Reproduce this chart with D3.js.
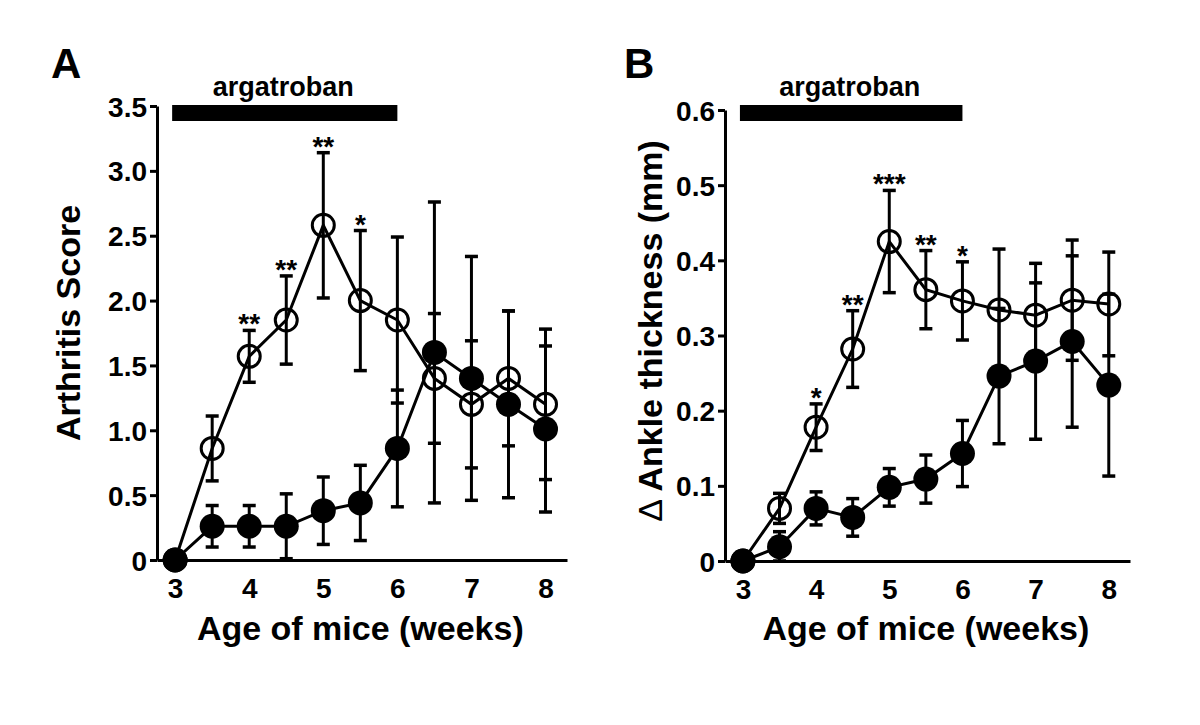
<!DOCTYPE html>
<html><head><meta charset="utf-8">
<script src="https://cdn.jsdelivr.net/npm/d3@7"></script>
<style>
body{margin:0;background:#fff}
svg text{font-family:"Liberation Sans",Arial,Helvetica,sans-serif;font-weight:bold;fill:#000}
</style>
</head><body>
<svg id="chart" width="1200" height="725"></svg>
<script>
// ---- data ----
const weeks = [3, 3.5, 4, 4.5, 5, 5.5, 6, 6.5, 7, 7.5, 8];
const xTicks = [3, 4, 5, 6, 7, 8];

// Panel A: arthritis score (open = control, filled = argatroban)
const scoreControl    = [0, 0.86, 1.57, 1.85, 2.58, 2.00, 1.85, 1.40, 1.20, 1.40, 1.20];
const scoreControlErr = [0, 0.25, 0.20, 0.34, 0.56, 0.54, 0.64, 0.50, 0.49, 0.52, 0.58];
const scoreArg        = [0, 0.26, 0.26, 0.26, 0.38, 0.44, 0.86, 1.60, 1.40, 1.20, 1.01];
const scoreArgErr     = [0, 0.16, 0.16, 0.25, 0.26, 0.29, 0.45, 1.16, 0.94, 0.72, 0.64];
const scoreStars      = ["", "", "**", "**", "**", "*", "", "", "", "", ""];
const scoreTicks      = [0, 0.5, 1, 1.5, 2, 2.5, 3, 3.5];
const scoreTickLabels = ["0", "0.5", "1.0", "1.5", "2.0", "2.5", "3.0", "3.5"];

// Panel B: ankle thickness
const ankleControl    = [0, 0.070, 0.178, 0.282, 0.425, 0.361, 0.346, 0.334, 0.327, 0.347, 0.342];
const ankleControlErr = [0, 0.020, 0.031, 0.051, 0.068, 0.052, 0.052, 0.081, 0.069, 0.080, 0.069];
const ankleArg        = [0, 0.019, 0.070, 0.058, 0.098, 0.109, 0.143, 0.246, 0.266, 0.292, 0.234];
const ankleArgErr     = [0, 0.020, 0.022, 0.025, 0.025, 0.032, 0.044, 0.090, 0.104, 0.114, 0.121];
const ankleStars      = ["", "", "*", "**", "***", "**", "*", "", "", "", ""];
const ankleTicks      = [0, 0.1, 0.2, 0.3, 0.4, 0.5, 0.6];
const ankleTickLabels = ["0", "0.1", "0.2", "0.3", "0.4", "0.5", "0.6"];

const treatmentPeriod = [3, 6];
const treatmentLabel = "argatroban";
const xTitle = "Age of mice (weeks)";

// ---- drawing ----
const svg = d3.select("#chart");

function panel(o) {
  const g = svg.append("g");
  const x = d3.scaleLinear().domain([2.755, 8.29]).range([o.left, o.right]);
  const y = d3.scaleLinear().domain([0, o.ymax]).range([o.bottom, o.top]);

  // y axis
  const ya = g.append("g").attr("transform", `translate(${o.left},0)`)
    .call(d3.axisLeft(y).tickValues(o.ticks).tickFormat((d, i) => o.tickLabels[i])
      .tickSize(7).tickSizeOuter(0).tickPadding(3));
  ya.attr("font-size", null).attr("font-family", null);
  ya.selectAll("path,line").attr("stroke", "#000").attr("stroke-width", 3);
  ya.selectAll("text").style("font-size", "28px").attr("dy", "0.36em");

  // x axis
  const xa = g.append("g").attr("transform", `translate(0,${o.bottom})`)
    .call(d3.axisBottom(x).tickValues(xTicks).tickFormat(d3.format("d"))
      .tickSize(0).tickSizeOuter(0).tickPadding(18));
  xa.attr("font-size", null).attr("font-family", null);
  xa.selectAll("path").attr("stroke", "#000").attr("stroke-width", 3);
  xa.selectAll("text").style("font-size", "28px");

  // axis titles
  g.append("text").attr("x", (x(3) + x(8)) / 2).attr("y", 640)
    .attr("text-anchor", "middle").style("font-size", "34px").text(xTitle);
  const yt = g.append("text")
    .attr("transform", `translate(${o.ylabX},${o.ylabY}) rotate(-90)`)
    .attr("text-anchor", "middle").style("font-size", "34px");
  if (o.ylabPrefix) yt.append("tspan").style("font-weight", "normal").text(o.ylabPrefix);
  yt.append("tspan").text(o.ylab);

  // panel letter
  g.append("text").attr("x", o.letterX).attr("y", 78).style("font-size", "42px").text(o.letter);

  // treatment bar
  g.append("rect").attr("x", x(treatmentPeriod[0]) - 3).attr("y", 105)
    .attr("width", x(treatmentPeriod[1]) - x(treatmentPeriod[0]) + 3).attr("height", 16)
    .attr("fill", "#000");
  g.append("text").attr("x", (x(treatmentPeriod[0]) + x(treatmentPeriod[1])) / 2 - 3).attr("y", 96)
    .attr("text-anchor", "middle").style("font-size", "27px").text(treatmentLabel);

  const line = d3.line().x((d, i) => x(weeks[i])).y(d => y(d));

  function series(vals, errs, filled) {
    const s = g.append("g");
    s.append("path").datum(vals).attr("d", line).attr("fill", "none")
      .attr("stroke", "#000").attr("stroke-width", 3);
    const eb = s.selectAll("g.eb").data(vals.map((v, i) => ({v, e: errs[i], w: weeks[i]})).filter(d => d.e > 0))
      .enter().append("g");
    eb.append("line").attr("x1", d => x(d.w)).attr("x2", d => x(d.w))
      .attr("y1", d => y(Math.max(0, d.v - d.e))).attr("y2", d => y(d.v + d.e))
      .attr("stroke", "#000").attr("stroke-width", 3);
    [1, -1].forEach(sg => {
      eb.append("line").attr("x1", d => x(d.w) - 6.5).attr("x2", d => x(d.w) + 6.5)
        .attr("y1", d => y(Math.max(0, d.v + sg * d.e))).attr("y2", d => y(Math.max(0, d.v + sg * d.e)))
        .attr("stroke", "#000").attr("stroke-width", 3.5);
    });
    s.selectAll("circle").data(vals).enter().append("circle")
      .attr("cx", (d, i) => x(weeks[i])).attr("cy", d => y(d))
      .attr("r", filled ? 12.5 : 11)
      .attr("fill", filled ? "#000" : "none")
      .attr("stroke", filled ? "none" : "#000").attr("stroke-width", 3);
  }
  series(o.ctrl, o.ctrlErr, false);
  series(o.arg, o.argErr, true);

  // significance stars
  g.selectAll("text.star").data(o.stars.map((s, i) => ({s, i})).filter(d => d.s)).enter()
    .append("text").attr("class", "star")
    .attr("x", d => x(weeks[d.i])).attr("y", d => y(o.ctrl[d.i] + o.ctrlErr[d.i]) + 3)
    .attr("text-anchor", "middle").style("font-size", "28px").text(d => d.s);
}

panel({
  left: 157, right: 567, top: 106, bottom: 560, ymax: 3.5,
  ticks: scoreTicks, tickLabels: scoreTickLabels,
  ctrl: scoreControl, ctrlErr: scoreControlErr, arg: scoreArg, argErr: scoreArgErr,
  stars: scoreStars, ylab: "Arthritis Score", ylabX: 80, ylabY: 323,
  letter: "A", letterX: 51
});
panel({
  left: 725, right: 1130, top: 110, bottom: 561, ymax: 0.6,
  ticks: ankleTicks, tickLabels: ankleTickLabels,
  ctrl: ankleControl, ctrlErr: ankleControlErr, arg: ankleArg, argErr: ankleArgErr,
  stars: ankleStars, ylabPrefix: "\u0394 ", ylab: "Ankle thickness (mm)", ylabX: 662, ylabY: 331,
  letter: "B", letterX: 624
});
</script>
</body></html>
